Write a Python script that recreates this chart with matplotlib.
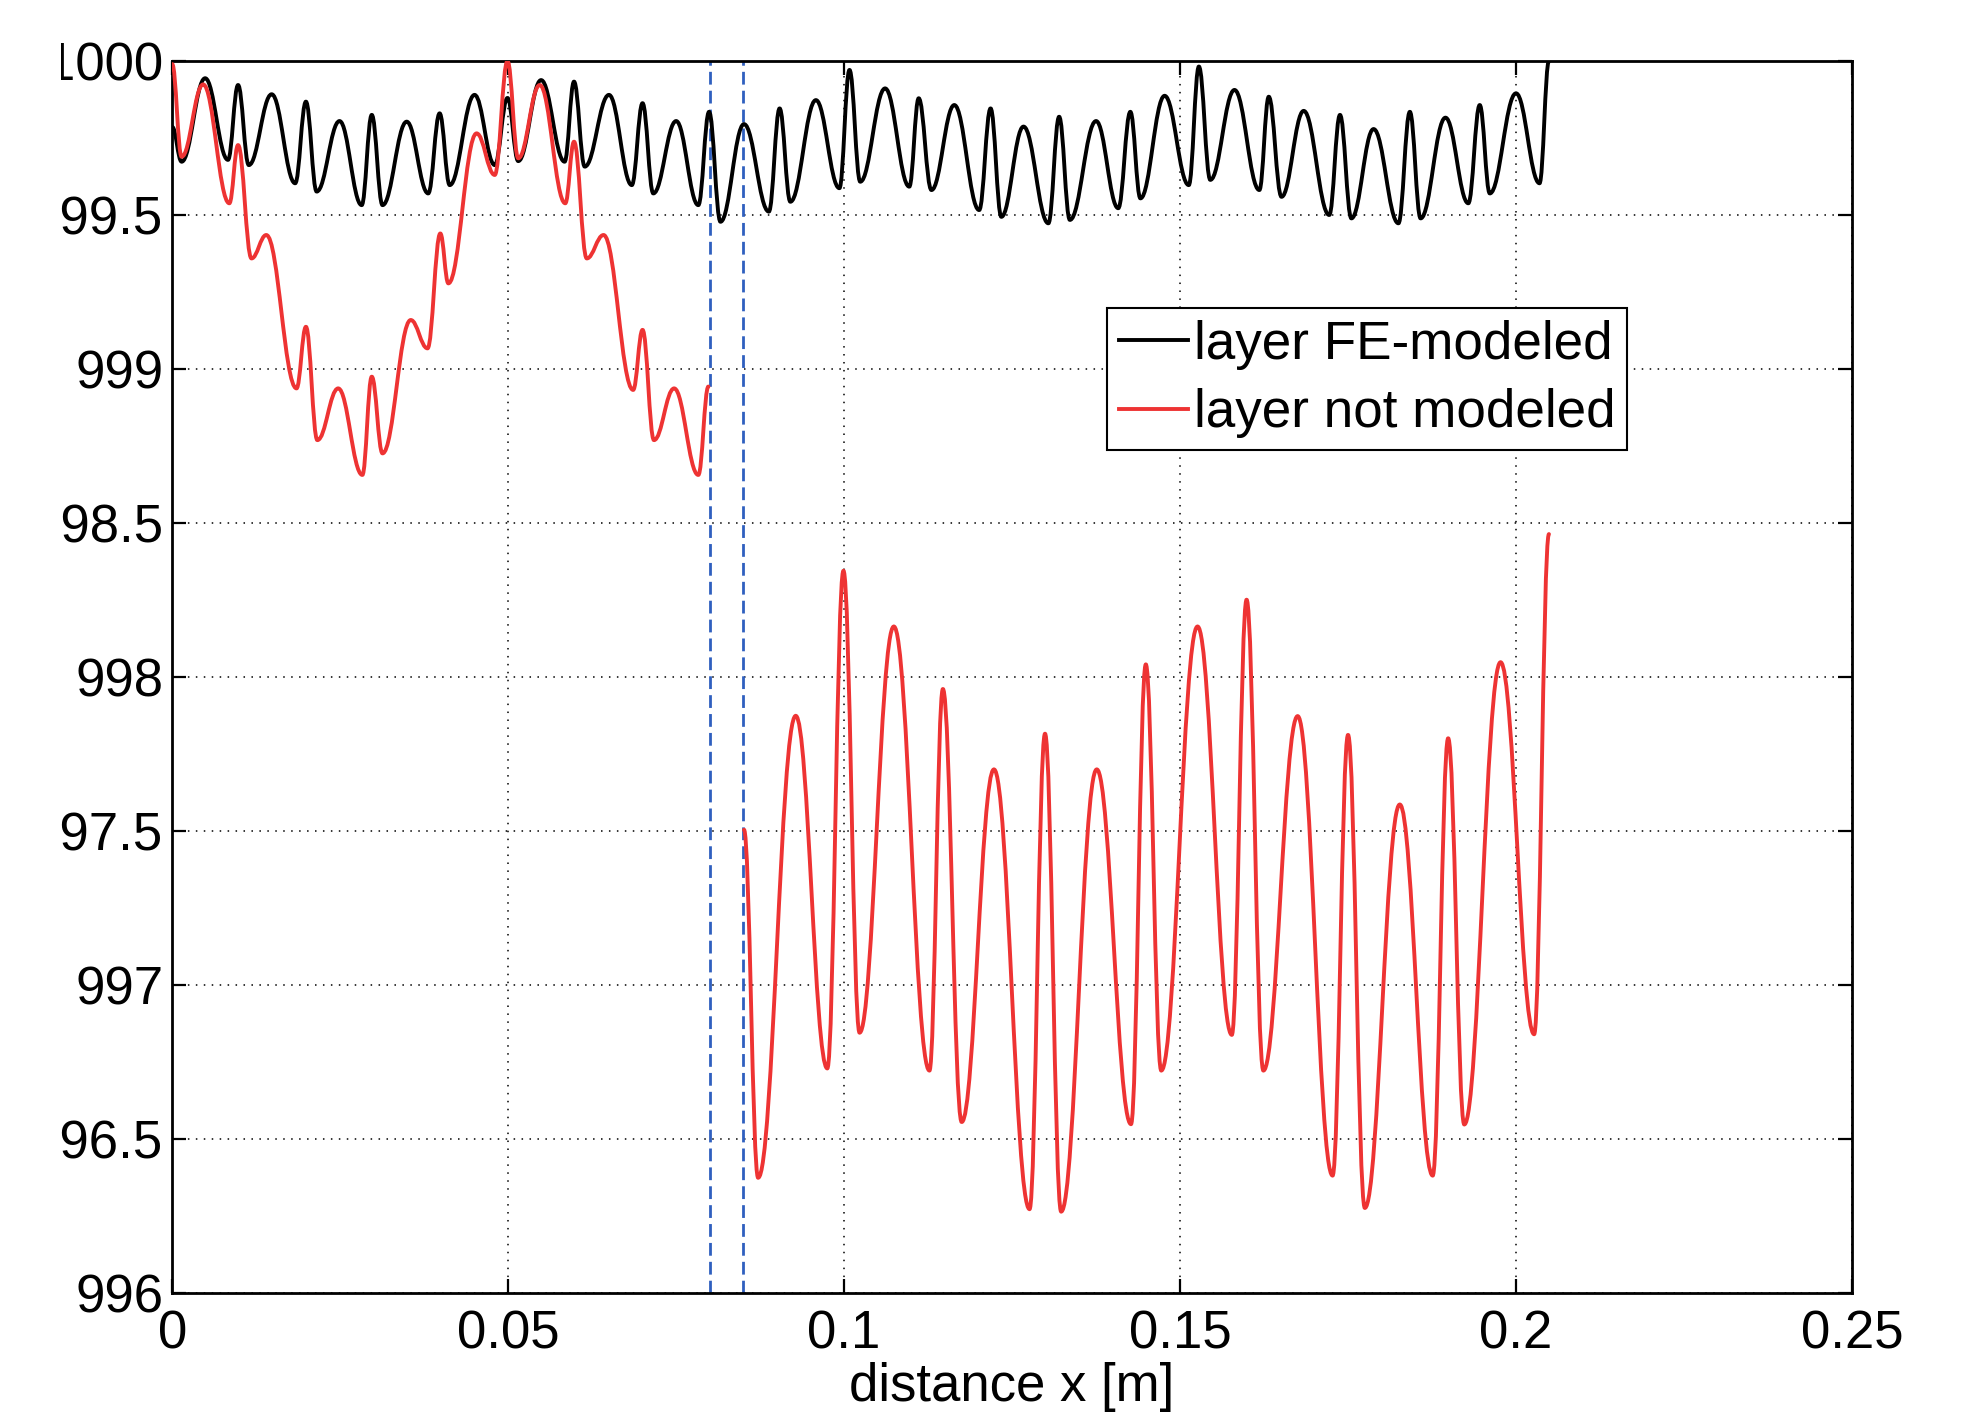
import matplotlib
matplotlib.use("Agg")
import matplotlib.pyplot as plt
from matplotlib.path import Path
from matplotlib.patches import PathPatch
from matplotlib.lines import Line2D
from matplotlib.transforms import Bbox, TransformedBbox

# turning points of the surface curve, layer FE-modeled
fe_x = [0.0000, 0.0014, 0.0049, 0.0083, 0.0098, 0.0114, 0.0148, 0.0183, 0.0199, 0.0215,
        0.0249, 0.0282, 0.0297, 0.0313, 0.0349, 0.0381, 0.0398, 0.0413, 0.0450, 0.0480,
        0.0499, 0.0515, 0.0549, 0.0584, 0.0598, 0.0614, 0.0650, 0.0684, 0.0700, 0.0716,
        0.0750, 0.0783, 0.0799, 0.0816, 0.0851, 0.0888, 0.0904, 0.0920, 0.0958, 0.0993,
        0.1008, 0.1024, 0.1061, 0.1097, 0.1111, 0.1130, 0.1164, 0.1201, 0.1218, 0.1234,
        0.1267, 0.1304, 0.1320, 0.1336, 0.1375, 0.1408, 0.1426, 0.1441, 0.1477, 0.1513,
        0.1528, 0.1545, 0.1581, 0.1618, 0.1632, 0.1651, 0.1684, 0.1722, 0.1738, 0.1755,
        0.1788, 0.1825, 0.1842, 0.1858, 0.1895, 0.1929, 0.1946, 0.1961, 0.2000, 0.2035,
        0.2049]
fe_y = [999.786, 999.673, 999.944, 999.679, 999.922, 999.662, 999.892, 999.603, 999.868, 999.576,
        999.805, 999.532, 999.825, 999.532, 999.803, 999.570, 999.830, 999.597, 999.890, 999.662,
        999.880, 999.675, 999.938, 999.673, 999.933, 999.657, 999.890, 999.597, 999.863, 999.570,
        999.805, 999.532, 999.835, 999.478, 999.795, 999.511, 999.846, 999.543, 999.873, 999.587,
        999.971, 999.608, 999.911, 999.592, 999.879, 999.581, 999.857, 999.516, 999.846, 999.494,
        999.787, 999.473, 999.819, 999.484, 999.805, 999.522, 999.835, 999.554, 999.887, 999.597,
        999.982, 999.614, 999.906, 999.581, 999.884, 999.559, 999.838, 999.500, 999.825, 999.489,
        999.779, 999.473, 999.835, 999.489, 999.816, 999.538, 999.857, 999.570, 999.895, 999.603,
        1000.000]

# layer not modeled, part before the layer
nm1_x = [0.0000, 0.0014, 0.0046, 0.0085, 0.0098, 0.0118, 0.0140, 0.0185, 0.0199, 0.0216,
         0.0247, 0.0283, 0.0297, 0.0313, 0.0355, 0.0380, 0.0399, 0.0411, 0.0453, 0.0480,
         0.0499, 0.0515, 0.0547, 0.0585, 0.0598, 0.0617, 0.0642, 0.0686, 0.0700, 0.0717,
         0.0747, 0.0783, 0.0798]
nm1_y = [999.990, 999.689, 999.924, 999.538, 999.727, 999.359, 999.435, 998.937, 999.137, 998.769,
         998.937, 998.656, 998.975, 998.726, 999.159, 999.067, 999.440, 999.278, 999.765, 999.630,
         1000.000, 999.684, 999.922, 999.538, 999.738, 999.359, 999.435, 998.932, 999.127, 998.769,
         998.937, 998.656, 998.943]

# layer not modeled, part behind the layer
nm2_x = [0.0851, 0.0872, 0.0928, 0.0975, 0.0999, 0.1023, 0.1074, 0.1127, 0.1147, 0.1175,
         0.1223, 0.1276, 0.1299, 0.1323, 0.1376, 0.1427, 0.1449, 0.1472, 0.1526, 0.1577,
         0.1599, 0.1624, 0.1675, 0.1727, 0.1750, 0.1775, 0.1827, 0.1876, 0.1899, 0.1923,
         0.1977, 0.2027, 0.2049]
nm2_y = [997.504, 996.374, 997.874, 996.729, 998.345, 996.845, 998.164, 996.722, 997.961, 996.555,
         997.700, 996.272, 997.816, 996.264, 997.700, 996.548, 998.041, 996.722, 998.164, 996.838,
         998.251, 996.722, 997.873, 996.381, 997.812, 996.276, 997.586, 996.381, 997.801, 996.547,
         998.048, 996.840, 998.464]

layer_edges = [0.080, 0.085]
x_ticks = [0, 0.05, 0.1, 0.15, 0.2, 0.25]
x_ticklabels = ["0", "0.05", "0.1", "0.15", "0.2", "0.25"]
y_ticks = [996, 996.5, 997, 997.5, 998, 998.5, 999, 999.5, 1000]
y_ticklabels = ["996", "996.5", "997", "997.5", "998", "998.5", "999", "999.5", "1000"]

BLACK = "black"
RED = "#ee3333"
BLUE = "#2f5fbf"
LW = 2.8


def smooth_path(xs, ys, k=0.4):
    # cubic segments between turning points, flat at every turning point
    verts = [(xs[0], ys[0])]
    codes = [Path.MOVETO]
    for x0, y0, x1, y1 in zip(xs[:-1], ys[:-1], xs[1:], ys[1:]):
        dx = x1 - x0
        verts += [(x0 + k * dx, y0), (x1 - k * dx, y1), (x1, y1)]
        codes += [Path.CURVE4] * 3
    return Path(verts, codes)


plt.rcParams["font.family"] = ["Liberation Sans", "DejaVu Sans"]

fig = plt.figure(figsize=(19.66, 14.12), dpi=100)
ax = fig.add_axes([0.0876, 0.0843, 0.8544, 0.8725])

for xs, ys, col in [(fe_x, fe_y, BLACK), (nm1_x, nm1_y, RED), (nm2_x, nm2_y, RED)]:
    ax.add_patch(PathPatch(smooth_path(xs, ys), facecolor="none", edgecolor=col,
                           linewidth=LW, joinstyle="round", capstyle="round", zorder=3))

for xe in layer_edges:
    ax.axvline(xe, color=BLUE, linewidth=2.0, linestyle=(0, (4.6, 2.2)), zorder=2)

ax.set_xlim(0, 0.25)
ax.set_ylim(996, 1000)
ax.set_xticks(x_ticks)
ax.set_xticklabels(x_ticklabels)
ax.set_yticks(y_ticks)
ax.set_yticklabels(y_ticklabels)

ax.grid(True, color="black", linestyle=(0, (1, 4.2)), linewidth=1.1)
ax.set_axisbelow(True)
ax.tick_params(direction="in", length=10, width=1.6, top=True, right=True,
               labelsize=38, colors="black")
ax.tick_params(axis="x", pad=12)
ax.tick_params(axis="y", pad=6.5)
for sp in ax.spines.values():
    sp.set_linewidth(2.0)

ax.set_xlabel("distance x [m]", fontsize=38, labelpad=2)

handles = [Line2D([], [], color=BLACK, linewidth=LW),
           Line2D([], [], color=RED, linewidth=LW)]
leg = ax.legend(handles, ["layer FE-modeled", "layer not modeled"],
                loc="upper left", bbox_to_anchor=(1107 / 1966, 1 - 308 / 1412),
                bbox_transform=fig.transFigure, borderaxespad=0, fontsize=38.2,
                fancybox=False, framealpha=1, edgecolor="black",
                handlelength=1.3, handletextpad=0.12, borderpad=0.22,
                labelspacing=0.35)
leg.get_frame().set_linewidth(1.5)

# the page is trimmed on the left, cutting into the widest tick labels
trim = TransformedBbox(Bbox.from_extents(61.5 / 1966, 0, 1, 1), fig.transFigure)
for tick in ax.yaxis.get_major_ticks():
    tick.label1.set_clip_on(True)
    tick.label1.set_clip_box(trim)

fig.savefig("out.png", dpi=100)
